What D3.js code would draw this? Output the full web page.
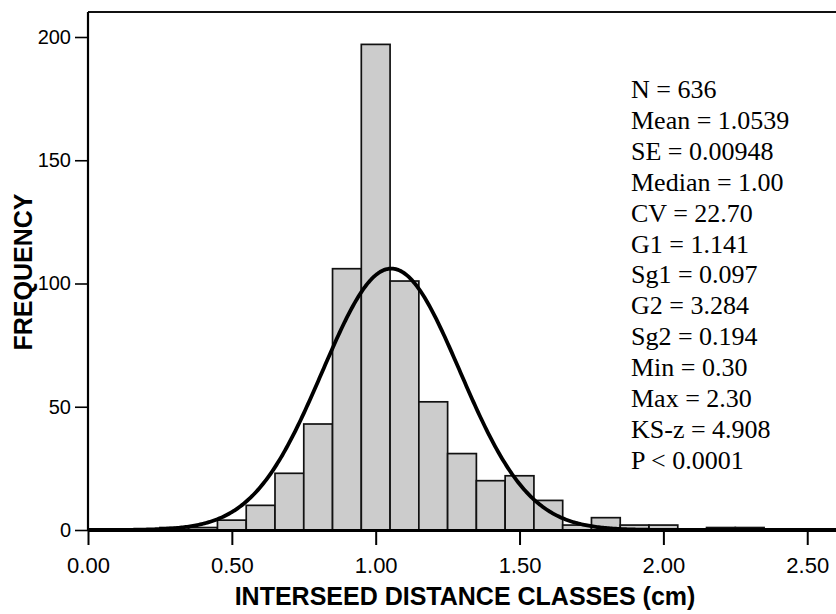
<!DOCTYPE html>
<html>
<head>
<meta charset="utf-8">
<script src="https://cdn.jsdelivr.net/npm/d3@7"></script>
<style>
  html, body { margin: 0; padding: 0; background: #fff; }
  svg { display: block; }
</style>
</head>
<body>
<svg id="chart" width="836" height="614"></svg>
<script>
// ---- data ----
const binCenters = [0.3, 0.4, 0.5, 0.6, 0.7, 0.8, 0.9, 1.0, 1.1, 1.2, 1.3, 1.4, 1.5, 1.6, 1.7, 1.8, 1.9, 2.0, 2.1, 2.2, 2.3];
const frequencies = [1, 1, 4, 10, 23, 43, 106, 197, 101, 52, 31, 20, 22, 12, 2, 5, 2, 2, 0, 1, 1];
const binWidth = 0.1;
const xTicks = [0, 0.5, 1.0, 1.5, 2.0, 2.5];
const yTicks = [0, 50, 100, 150, 200];
const statLines = ["N = 636", "Mean = 1.0539", "SE = 0.00948", "Median = 1.00", "CV = 22.70",
  "G1 = 1.141", "Sg1 = 0.097", "G2 = 3.284", "Sg2 = 0.194", "Min = 0.30", "Max = 2.30",
  "KS-z = 4.908", "P < 0.0001"];
const nObs = 636, meanVal = 1.0539, cvPct = 22.70;
const xTitle = "INTERSEED DISTANCE CLASSES (cm)";
const yTitle = "FREQUENCY";

// ---- layout ----
const svg = d3.select("#chart");
const pLeft = 88, pRight = 836, pTop = 12, pBottom = 530;
const x = d3.scaleLinear().domain([0, 2.6]).range([pLeft, pRight]);
const y = d3.scaleLinear().domain([0, 200]).range([pBottom, 37]);

// bars
svg.append("g").selectAll("rect").data(binCenters).join("rect")
  .attr("x", (d) => x(d - binWidth / 2))
  .attr("width", (d) => x(d + binWidth / 2) - x(d - binWidth / 2))
  .attr("y", (d, i) => y(frequencies[i]))
  .attr("height", (d, i) => y(0) - y(frequencies[i]))
  .attr("fill", "#cccccc")
  .attr("stroke", "#111")
  .attr("stroke-width", 1.7);

// fitted normal curve from stated statistics
const sd = meanVal * cvPct / 100;
const scaleK = nObs * binWidth / (sd * Math.sqrt(2 * Math.PI));
const curveX = d3.range(0, 2.6001, 0.005);
const line = d3.line()
  .x((d) => x(d))
  .y((d) => y(scaleK * Math.exp(-0.5 * Math.pow((d - meanVal) / sd, 2))));
svg.append("path").datum(curveX)
  .attr("d", line)
  .attr("fill", "none")
  .attr("stroke", "#000")
  .attr("stroke-width", 3.8)
  .attr("stroke-linejoin", "round");

// frame top line
svg.append("line").attr("x1", pLeft).attr("x2", pRight).attr("y1", pTop).attr("y2", pTop)
  .attr("stroke", "#111").attr("stroke-width", 2);

// x axis
const xAxis = d3.axisBottom(x).tickValues(xTicks).tickFormat(d3.format(".2f")).tickSizeOuter(0).tickSizeInner(15).tickPadding(12);
const gx = svg.append("g").attr("transform", `translate(0,${pBottom})`).call(xAxis);
gx.select(".domain").attr("stroke", "#000").attr("stroke-width", 3);
gx.selectAll(".tick line").attr("stroke", "#000").attr("stroke-width", 2);
gx.selectAll(".tick text").attr("font-family", "Liberation Sans, Arial, sans-serif").attr("font-size", 22).attr("fill", "#000");

// y axis
const yAxis = d3.axisLeft(y).tickValues(yTicks).tickFormat(d3.format("d")).tickSizeOuter(0).tickSizeInner(13).tickPadding(4);
const gy = svg.append("g").attr("transform", `translate(${pLeft},0)`).call(yAxis);
gy.select(".domain").attr("stroke", "#000").attr("stroke-width", 2.2).attr("d", `M0,${pTop}V${pBottom}`);
gy.selectAll(".tick line").attr("stroke", "#000").attr("stroke-width", 1.6);
gy.selectAll(".tick text").attr("font-family", "Liberation Sans, Arial, sans-serif").attr("font-size", 20).attr("fill", "#000");

// titles
svg.append("text").attr("x", 465).attr("y", 605).attr("text-anchor", "middle")
  .attr("font-family", "Liberation Sans, Arial, sans-serif").attr("font-weight", "bold").attr("font-size", 25)
  .text(xTitle);
svg.append("text").attr("transform", "translate(32,272) rotate(-90)").attr("text-anchor", "middle")
  .attr("font-family", "Liberation Sans, Arial, sans-serif").attr("font-weight", "bold").attr("font-size", 25)
  .text(yTitle);

// stats block
svg.append("g").selectAll("text").data(statLines).join("text")
  .attr("x", 631).attr("y", (d, i) => 98 + i * 30.9)
  .attr("font-family", "Liberation Serif, Times New Roman, serif").attr("font-size", 26).attr("fill", "#000")
  .text((d) => d);
</script>
</body>
</html>
